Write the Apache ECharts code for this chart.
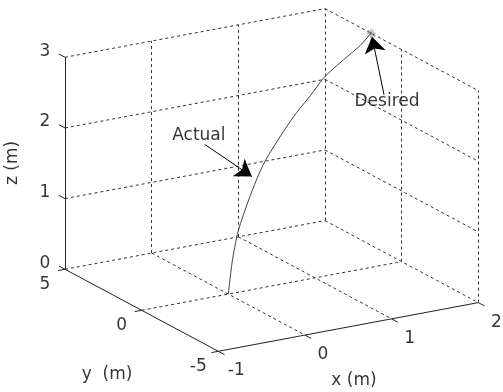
<!DOCTYPE html>
<html>
<head>
<meta charset="utf-8">
<script src="https://cdn.jsdelivr.net/npm/echarts@6/dist/echarts.min.js"></script>
<style>
html, body { margin: 0; padding: 0; background: #fff; }
#chart { width: 503px; height: 392px; }
</style>
</head>
<body>
<div id="chart"></div>
<script>
const xTicks = [-1, 0, 1, 2];
const yTicks = [-5, 0, 5];
const zTicks = [0, 1, 2, 3];

// actual trajectory (m)
const actualX = [0, 0.05, 0.09, 0.14, 0.28, 0.4, 0.52, 0.77, 0.96, 1.15, 1.33, 1.47, 1.66, 1.85, 2];
const actualY = [0, 0.05, 0.09, 0.14, 0.28, 0.4, 0.52, 0.77, 0.96, 1.15, 1.33, 1.47, 1.66, 1.85, 2];
const actualZ = [0, 0.41, 0.63, 0.85, 1.22, 1.49, 1.71, 2.03, 2.24, 2.41, 2.59, 2.68, 2.78, 2.88, 3];

const desiredPoint = [2, 2, 3];
const actualTip = [0.33, 0.33, 1.55];

const font = 'DejaVu Sans';

// view: pixel of corner (xmin, ymax, zmin) and pixel step per unit on each axis
const origin = [65, 269.3];
const stepX = [86.67, -16.23];
const stepY = [-15.33, -8.2];
const stepZ = [0, -70.67];

const xMin = Math.min(...xTicks), xMax = Math.max(...xTicks);
const yMin = Math.min(...yTicks), yMax = Math.max(...yTicks);
const zMin = Math.min(...zTicks), zMax = Math.max(...zTicks);

const proj = (x, y, z) => {
  const a = x - xMin, b = y - yMax, c = z - zMin;
  return [
    origin[0] + a * stepX[0] + b * stepY[0] + c * stepZ[0],
    origin[1] + a * stepX[1] + b * stepY[1] + c * stepZ[1]
  ];
};
const seg = (p, q) => ({ coords: [proj(...p), proj(...q)] });
const shift = (p, d) => [p[0] + d[0], p[1] + d[1]];

// grid lines on the back walls and the floor
const gridSegs = [];
xTicks.filter(x => x !== xMin).forEach(x => {
  gridSegs.push(seg([x, yMax, zMin], [x, yMax, zMax]));
  gridSegs.push(seg([x, yMax, zMin], [x, yMin, zMin]));
});
yTicks.filter(y => y !== yMax).forEach(y => {
  gridSegs.push(seg([xMax, y, zMin], [xMax, y, zMax]));
});
yTicks.filter(y => y !== yMin).forEach(y => {
  gridSegs.push(seg([xMin, y, zMin], [xMax, y, zMin]));
});
zTicks.filter(z => z !== zMin).forEach(z => {
  gridSegs.push(seg([xMin, yMax, z], [xMax, yMax, z]));
  gridSegs.push(seg([xMax, yMax, z], [xMax, yMin, z]));
});

// axis lines and tick marks
const axisSegs = [
  seg([xMin, yMax, zMin], [xMin, yMax, zMax]),
  seg([xMin, yMax, zMin], [xMin, yMin, zMin]),
  seg([xMin, yMin, zMin], [xMax, yMin, zMin])
];
const tickLen = 7;
const unit = v => { const l = Math.hypot(v[0], v[1]); return [v[0] / l * tickLen, v[1] / l * tickLen]; };
const zTickDir = unit(stepY);
const yTickDir = unit([-stepX[0], -stepX[1]]);
const xTickDir = unit([-stepY[0], -stepY[1]]);
const tickSegs = [];
const labels = [];
zTicks.forEach(z => {
  const p = proj(xMin, yMax, z);
  tickSegs.push({ coords: [p, shift(p, zTickDir)] });
  labels.push({ name: String(z), value: shift(p, [-20, -6]) });
});
yTicks.forEach(y => {
  const p = proj(xMin, y, zMin);
  tickSegs.push({ coords: [p, shift(p, yTickDir)] });
  labels.push({ name: String(y), value: shift(p, [-20, 15]) });
});
xTicks.forEach(x => {
  const p = proj(x, yMin, zMin);
  tickSegs.push({ coords: [p, shift(p, xTickDir)] });
  labels.push({ name: String(x), value: shift(p, [18, 19.5]) });
});

// axis titles
labels.push({ name: 'y  (m)', value: [107, 375] });
labels.push({ name: 'x (m)', value: [354, 381] });
const zTitle = { name: 'z (m)', value: [13, 163] };

const actualLine = actualX.map((x, i) => proj(x, actualY[i], actualZ[i]));

// text arrows
const actualTipPx = proj(...actualTip);
const desiredTipPx = shift(proj(...desiredPoint), [1, 3.5]);
const arrows = [
  { coords: [shift(actualTipPx, [-47, -32]), actualTipPx] },
  { coords: [shift(desiredTipPx, [12, 58]), desiredTipPx] }
];
const arrowText = [
  { name: 'Actual', value: shift(actualTipPx, [-53, -41]) },
  { name: 'Desired', value: shift(desiredTipPx, [15, 65]) }
];

const chart = echarts.init(document.getElementById('chart'));

const labelStyle = {
  show: true,
  position: 'inside',
  color: '#000',
  fontFamily: font,
  fontSize: 17,
  formatter: p => p.data.name
};

const option = {
  animation: false,
  backgroundColor: '#fff',
  grid: { left: 0, right: 0, top: 0, bottom: 0 },
  xAxis: { type: 'value', min: 0, max: 503, show: false },
  yAxis: { type: 'value', min: 0, max: 392, inverse: true, show: false },
  series: [
    {
      type: 'lines',
      coordinateSystem: 'cartesian2d',
      data: gridSegs,
      silent: true,
      lineStyle: { color: '#333', width: 1, type: [3, 3], opacity: 1 }
    },
    {
      type: 'lines',
      coordinateSystem: 'cartesian2d',
      data: axisSegs.concat(tickSegs),
      silent: true,
      lineStyle: { color: '#222', width: 1, opacity: 1 }
    },
    {
      type: 'line',
      data: actualLine,
      showSymbol: false,
      smooth: 0.3,
      lineStyle: { color: '#444', width: 1 }
    },
    {
      type: 'scatter',
      data: [proj(...desiredPoint)],
      symbol: 'path://M0,-5L0,5M-5,0L5,0M-3.6,-3.6L3.6,3.6M-3.6,3.6L3.6,-3.6',
      symbolSize: 9,
      itemStyle: { color: 'none', borderColor: '#777', borderWidth: 1 }
    },
    {
      type: 'lines',
      coordinateSystem: 'cartesian2d',
      data: arrows,
      symbol: ['none', 'arrow'],
      symbolSize: [11, 16],
      lineStyle: { color: '#000', width: 1, opacity: 1 },
      itemStyle: { color: '#000' }
    },
    {
      type: 'scatter',
      data: labels.concat(arrowText),
      symbolSize: 0,
      label: labelStyle
    },
    {
      type: 'scatter',
      data: [zTitle],
      symbolSize: 0,
      label: Object.assign({}, labelStyle, { rotate: 90 })
    }
  ]
};

chart.setOption(option);
window.addEventListener('resize', () => chart.resize());
</script>
</body>
</html>
